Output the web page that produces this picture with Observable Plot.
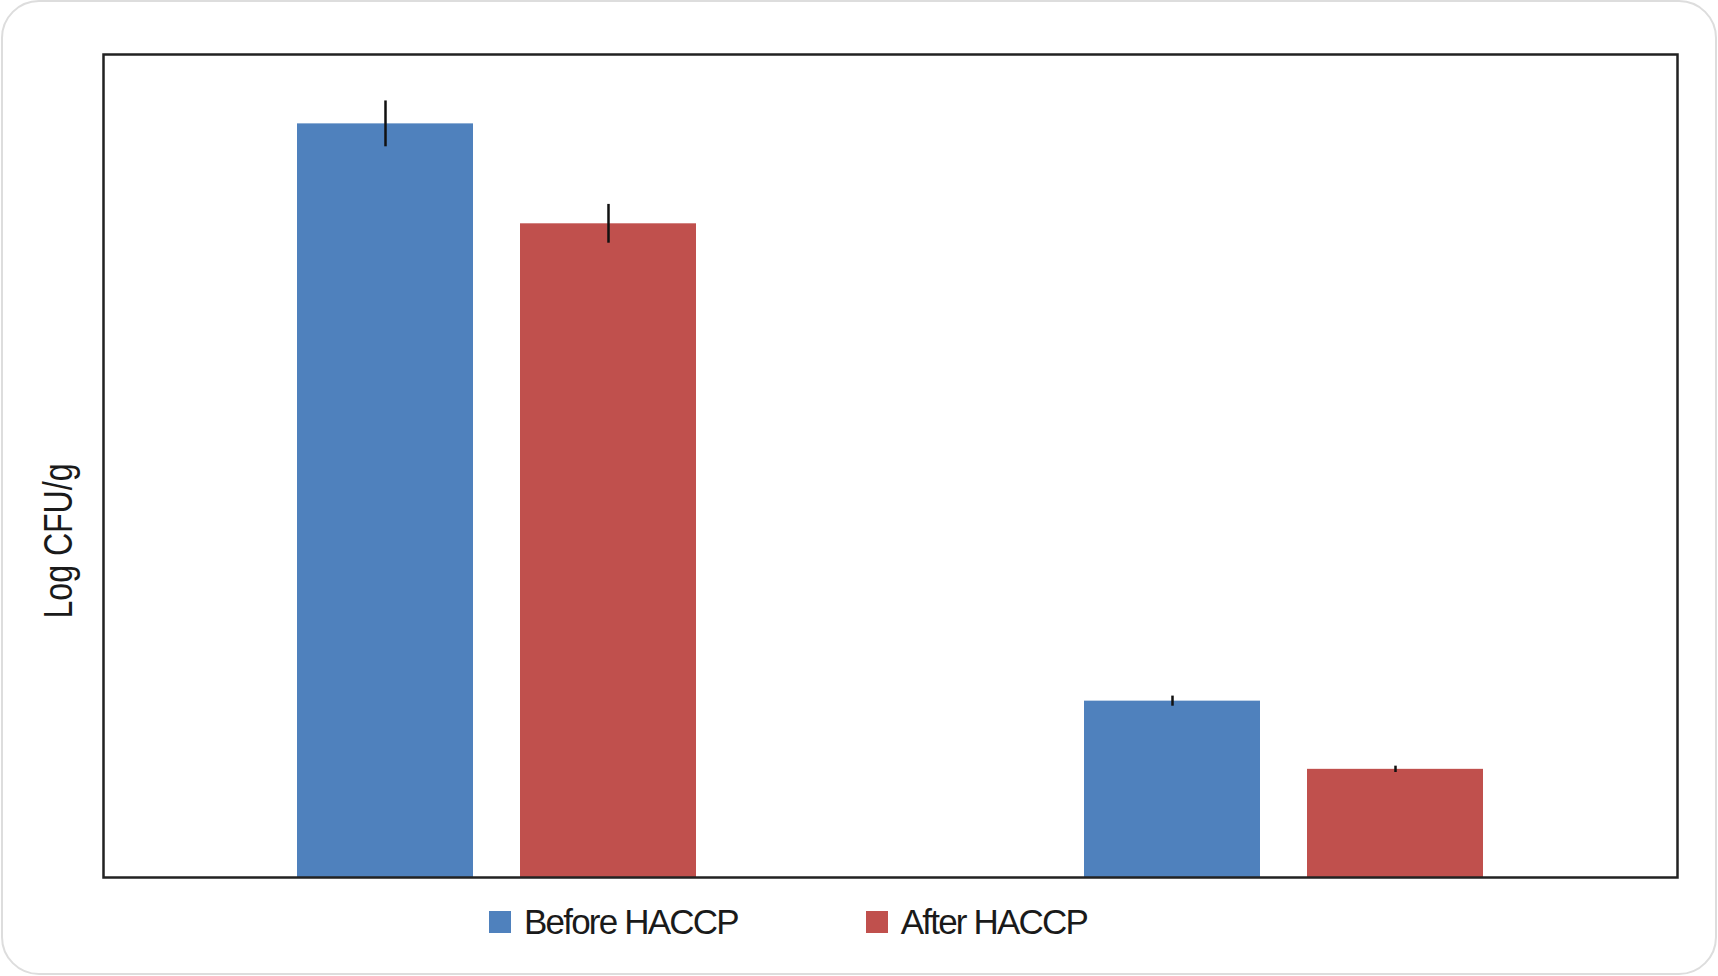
<!DOCTYPE html>
<html><head><meta charset="utf-8">
<script src="https://cdn.jsdelivr.net/npm/d3@7"></script>
<script src="https://cdn.jsdelivr.net/npm/@observablehq/plot@0.6"></script>
<style>
body{margin:0;background:#fff;}
#wrap{position:relative;width:1718px;height:976px;overflow:hidden;background:#fff;}
#border{position:absolute;left:1px;top:0;width:1716px;height:975px;box-sizing:border-box;border:2.5px solid #dddddd;border-radius:38px;}
#chart{position:absolute;left:0;top:0;}
#legend{position:absolute;left:489px;top:900px;height:44px;display:flex;align-items:center;font-family:"Liberation Sans",Arial,sans-serif;font-size:35px;letter-spacing:-1.8px;color:#1a1a1a;white-space:nowrap;}
.item{display:flex;align-items:center;}
.sw{width:22px;height:22px;margin-right:13px;flex:none;}
</style></head><body>
<div id="wrap"><div id="border"></div><div id="chart"></div><div id="legend"></div></div>
<script>
// Data (Log CFU/g; axis carries no tick labels)
const groups = ["Sample A", "Sample B"];
const series = ["Before HACCP", "After HACCP"];
const beforeValues = [6.41, 1.50];
const afterValues = [5.56, 0.92];
const beforeErrors = [0.195, 0.043];
const afterErrors = [0.165, 0.027];
const seriesColors = ["#4F81BD", "#C0504D"];
const yLabel = "Log CFU/g";

const data = [];
groups.forEach((g, i) => {
  data.push({group: g, series: series[0], value: beforeValues[i], err: beforeErrors[i]});
  data.push({group: g, series: series[1], value: afterValues[i], err: afterErrors[i]});
});

const chart = Plot.plot({
  width: 1718,
  height: 882,
  marginLeft: 103,
  marginRight: 41,
  marginTop: 54,
  marginBottom: 5,
  style: {fontFamily: "'Liberation Sans', Arial, sans-serif", background: "transparent"},
  fx: {domain: groups, axis: null, padding: 0},
  x: {domain: series, axis: null, paddingInner: 0.2116, paddingOuter: 0.865},
  y: {domain: [0, 7], axis: null},
  color: {domain: series, range: seriesColors},
  marks: [
    Plot.barY(data, {fx: "group", x: "series", y: "value", fill: "series"}),
    Plot.ruleX(data, {fx: "group", x: "series", y1: d => d.value - d.err, y2: d => d.value + d.err, stroke: "#111", strokeWidth: 2.5}),
    Plot.frame({facet: "super", stroke: "#222", strokeWidth: 2.5}),
    // the label sits a little below the vertical middle of the frame in the reference
    Plot.text([yLabel], {facet: "super", frameAnchor: "left", textAnchor: "middle", rotate: -90, lineAnchor: "top",
      dx: -60, dy: 75, fontSize: 40, fill: "#1a1a1a", className: "ylabel"})
  ]
});
chart.querySelectorAll(".ylabel text").forEach(t => {
  t.setAttribute("textLength", 155);
  t.setAttribute("lengthAdjust", "spacingAndGlyphs");
});
document.getElementById("chart").appendChild(chart);

const legend = d3.select("#legend");
series.forEach((s, i) => {
  const item = legend.append("div").attr("class", "item").style("margin-left", i === 0 ? "0px" : "128px");
  item.append("div").attr("class", "sw").style("background", seriesColors[i]);
  item.append("span").text(s);
});
</script>
</body></html>
